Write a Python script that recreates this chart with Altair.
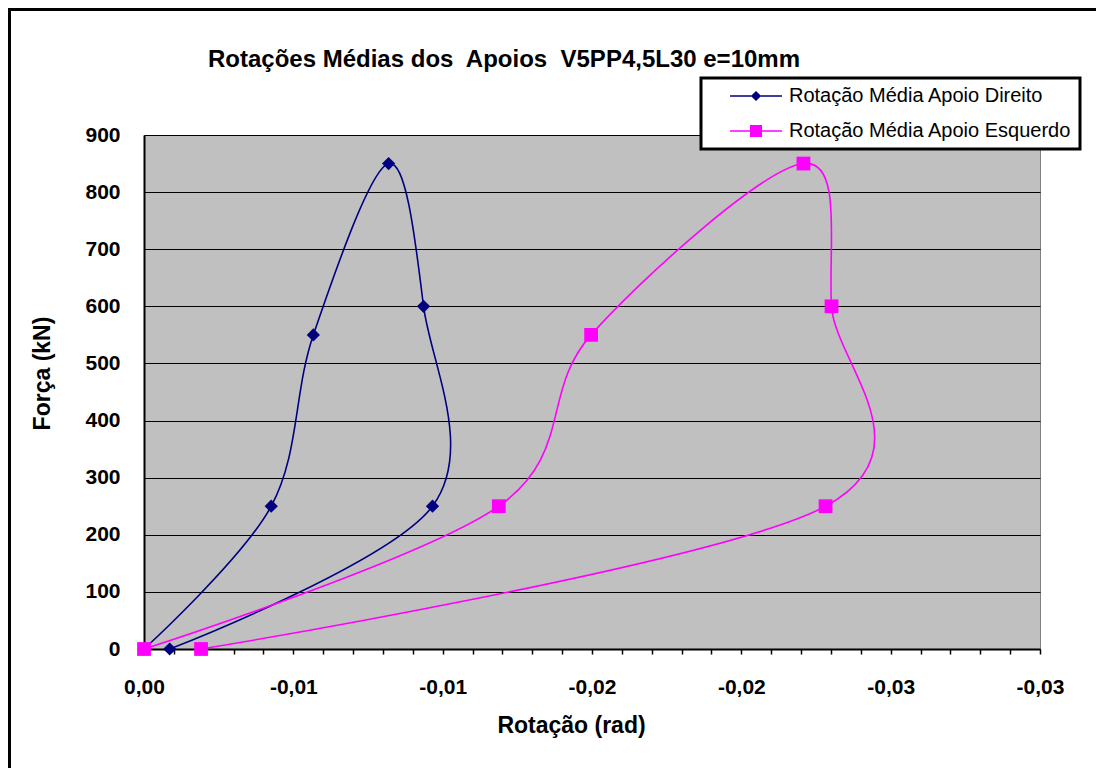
import altair as alt
import pandas as pd

# ---- data ----
series_names = ["Rotação Média Apoio Direito", "Rotação Média Apoio Esquerdo"]
series_colors = ["#000080", "#FF00FF"]

rot_direito = [0.0, -0.00426, -0.00567, -0.00819, -0.00936, -0.00966, -0.00086]
forca_direito = [0, 250, 550, 850, 600, 250, 0]

rot_esquerdo = [0.0, -0.01188, -0.01497, -0.02208, -0.02302, -0.02282, -0.00191]
forca_esquerdo = [0, 250, 550, 850, 600, 250, 0]

y_ticks = [0, 100, 200, 300, 400, 500, 600, 700, 800, 900]
x_major_labels = ["0,00", "-0,01", "-0,01", "-0,02", "-0,02", "-0,03", "-0,03"]
x_minor_ticks = [-i / 1000 for i in range(0, 31)]

title_text = "Rotações Médias dos\u00a0 Apoios\u00a0 V5PP4,5L30 e=10mm"
FONT = "Liberation Sans, Arial, sans-serif"

rows = []
for i, (r, f) in enumerate(zip(rot_direito, forca_direito)):
    rows.append({"serie": series_names[0], "rot": r, "forca": f, "ordem": i})
for i, (r, f) in enumerate(zip(rot_esquerdo, forca_esquerdo)):
    rows.append({"serie": series_names[1], "rot": r, "forca": f, "ordem": i})
df = pd.DataFrame(rows)

labels_js = "[" + ",".join("'" + s + "'" for s in x_major_labels) + "]"
label_expr = (
    "(round(-datum.value*1000) % 5 == 0) ? "
    + labels_js
    + "[round(-datum.value*1000)/5] : ''"
)

color_scale = alt.Scale(domain=series_names, range=series_colors)

x_enc = alt.X(
    "rot:Q",
    scale=alt.Scale(domain=[0, -0.03], nice=False, zero=False),
    axis=alt.Axis(
        values=x_minor_ticks,
        tickCount=60,
        labelExpr=label_expr,
        title="Rotação (rad)",
        grid=False,
        domainColor="black",
        domainWidth=2,
        ticks=True,
        tickColor="black",
        tickSize=5,
        tickWidth=1.5,
        labelFont=FONT,
        labelFontSize=21,
        labelFontWeight="bold",
        labelColor="black",
        labelPadding=22,
        labelFlush=False,
        labelOverlap=False,
        titleFont=FONT,
        titleFontSize=23,
        titleFontWeight="bold",
        titleColor="black",
        titleX=427,
        titleY=83,
        titleBaseline="alphabetic",
        titleAlign="center",
    ),
)

y_enc = alt.Y(
    "forca:Q",
    scale=alt.Scale(domain=[0, 900], nice=False),
    axis=alt.Axis(
        values=y_ticks,
        tickCount=20,
        title="Força (kN)",
        grid=True,
        gridColor="black",
        gridWidth=1,
        gridOpacity=1,
        domainColor="black",
        domainWidth=2,
        ticks=False,
        tickSize=0,
        labelFont=FONT,
        labelFontSize=21,
        labelFontWeight="bold",
        labelColor="black",
        labelPadding=24,
        titleFont=FONT,
        titleFontSize=23,
        titleFontWeight="bold",
        titleColor="black",
        titleAngle=270,
        titleX=-102,
        titleY=238,
        titleBaseline="middle",
        titleAlign="center",
    ),
)

base = alt.Chart(df)

lines = base.mark_line(interpolate="cardinal", strokeWidth=1.6).encode(
    x=x_enc,
    y=y_enc,
    color=alt.Color("serie:N", scale=color_scale, legend=None),
    order="ordem:Q",
)

diamonds = (
    base.transform_filter(alt.datum.serie == series_names[0])
    .mark_point(shape="diamond", filled=True, size=175, opacity=1)
    .encode(x="rot:Q", y="forca:Q", color=alt.Color("serie:N", scale=color_scale, legend=None))
)

squares = (
    base.transform_filter(alt.datum.serie == series_names[1])
    .mark_point(shape="square", filled=True, size=190, opacity=1)
    .encode(x="rot:Q", y="forca:Q", color=alt.Color("serie:N", scale=color_scale, legend=None))
)

data_layers = alt.layer(lines, diamonds, squares)

legend_paths = [
    "M-4.33,-0.125H4.33V0.125H-4.33Z M0,-0.85L0.85,0L0,0.85L-0.85,0Z",
    "M-4.33,-0.125H4.33V0.125H-4.33Z M-1,-1H1V1H-1Z",
]

leg = alt.Legend(
    title=None,
    orient="none",
    legendX=557,
    legendY=-57,
    fillColor="white",
    strokeColor="black",
    padding=8,
    symbolSize=144,
    symbolOffset=37,
    symbolStrokeWidth=0,
    symbolOpacity=1,
    labelOffset=23,
    labelExpr="datum.label + '\u00a0\u00a0\u00a0\u00a0'",
    labelFont=FONT,
    labelFontSize=20,
    labelColor="black",
    labelLimit=400,
    rowPadding=15,
)

legend_layer = base.mark_point(filled=True, opacity=0).encode(
    x="rot:Q",
    y="forca:Q",
    color=alt.Color("serie:N", scale=alt.Scale(domain=series_names, range=series_colors), legend=leg),
    shape=alt.Shape("serie:N", scale=alt.Scale(domain=series_names, range=legend_paths), legend=leg),
)

frame = (
    alt.Chart(pd.DataFrame({"k": [0]}))
    .mark_rect(filled=False, stroke="black", strokeWidth=4, clip=False)
    .encode(x=alt.value(-135), x2=alt.value(1100), y=alt.value(-126), y2=alt.value(800))
)

chart = (
    alt.layer(data_layers, legend_layer, frame)
    .resolve_scale(color="independent", shape="independent")
    .resolve_legend(color="independent", shape="independent")
    .properties(
        width=896,
        height=514,
        padding={"left": 136, "top": 127, "right": 56, "bottom": 119},
        autosize=alt.AutoSizeParams(type="none"),
        title=alt.TitleParams(
            text=title_text,
            font=FONT,
            fontSize=24,
            fontWeight="bold",
            color="black",
            anchor="middle",
            dx=-88,
            dy=84,
            offset=0,
            baseline="alphabetic",
        ),
    )
    .configure(background="white")
    .configure_view(fill="#C0C0C0", stroke="#808080", strokeWidth=1)
    .configure_legend(strokeWidth=3)
)

chart.save("out.html", embed_options={"renderer": "svg", "actions": False})
